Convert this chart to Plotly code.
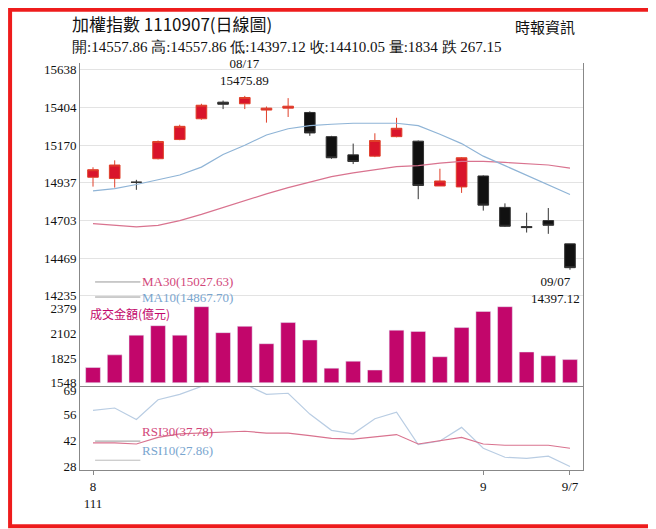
import plotly.graph_objects as go

opens  = [14971,14963,14940,15086,15205,15334,15437,15427,15388,15400,15373,15223,15110,15102,15223,15195,14917,14911,14979,14784,14665,14702,14557.86]
highs  = [15033,15076,14955,15199,15297,15427,15447,15475.89,15410,15462,15380,15228,15180,15244,15340,15199,15024,15096,14983,14809,14751,14780,14557.86]
lows   = [14913,14907,14893,15082,15201,15328,15394,15394,15310,15345,15228,15086,15053,15096,15219,14835,14917,14874,14764,14663,14628,14620,14397.12]
closes = [15018,15047,14940,15193,15287,15418,15424,15466,15400,15412,15246,15092,15069,15199,15275,14920,14948,15092,14798,14667,14659,14673,14410.05]
ma10 = [14887,14901,14926,14956,14985,15034,15112,15170,15233,15272,15291,15300,15306,15306,15306,15291,15238,15180,15102,15043,14985,14926,14864]
ma30 = [14683,14673,14663,14673,14702,14741,14784,14829,14868,14907,14940,14975,14998,15018,15037,15043,15059,15069,15069,15063,15057,15047,15028]
volume = [1718,1860,2081,2187,2081,2400,2109,2180,1985,2222,2027,1711,1789,1690,2137,2123,1839,2166,2347,2400,1892,1850,1807]
rsi10 = [58.3,59.6,53.4,64.1,67.0,71.3,71.9,72.5,67.0,67.6,56.3,47.5,45.6,53.8,57.3,39.8,41.7,49.1,37.8,32.9,32.3,33.5,27.9]
rsi30 = [40.7,40.7,40.1,43.7,45.6,46.0,46.4,47.0,46.0,46.0,44.6,43.1,42.7,44.0,45.2,40.1,41.7,43.7,40.1,39.4,39.4,39.4,37.8]
price_ticks = [14235,14469,14703,14937,15170,15404,15638]
vol_ticks = [1548,1825,2102,2379]
rsi_ticks = [28,42,56,69]
x = list(range(len(opens)))
xtick_vals = [0,18,22]
xtick_text = ["8<br>111","9","9/7"]

F = "Liberation Serif"
fig = go.Figure()
fig.add_trace(go.Scatter(x=x, y=ma30, mode="lines", line=dict(color="#d9738f", width=1.2), yaxis="y", xaxis="x"))
fig.add_trace(go.Scatter(x=x, y=ma10, mode="lines", line=dict(color="#8fb4d6", width=1.2), yaxis="y", xaxis="x"))
fig.add_trace(go.Candlestick(x=x, open=opens, high=highs, low=lows, close=closes, whiskerwidth=0,
    increasing=dict(fillcolor="#d9142b", line=dict(color="#e0402a", width=1)),
    decreasing=dict(fillcolor="#111111", line=dict(color="#333333", width=1)),
    xaxis="x", yaxis="y"))
fig.add_trace(go.Bar(x=x, y=[v-1548 for v in volume], base=1548, marker_color="#c2066b", width=0.68, xaxis="x", yaxis="y2"))
fig.add_trace(go.Scatter(x=x, y=rsi10, mode="lines", line=dict(color="#b9cde3", width=1.2), xaxis="x", yaxis="y3"))
fig.add_trace(go.Scatter(x=x, y=rsi30, mode="lines", line=dict(color="#d9738f", width=1.2), xaxis="x", yaxis="y3"))

ax = dict(showline=True, linecolor="#888", mirror=True, gridcolor="#e3e3e3", zeroline=False, automargin=False,
          tickfont=dict(family=F, size=13, color="#111"), ticks="", fixedrange=True, tickformat="d")
fig.update_layout(
    width=656, height=529, paper_bgcolor="white", plot_bgcolor="white", showlegend=False,
    margin=dict(l=72, r=81, t=55, b=67),
    xaxis=dict(ax, range=[-0.6, 22.6], tickvals=xtick_vals, ticktext=xtick_text, showgrid=False,
               rangeslider=dict(visible=False), anchor="y3", ticks="outside", ticklen=4, tickcolor="#888"),
    yaxis=dict(ax, domain=[0.41, 1], range=[14190, 15680], tickvals=price_ticks),
    yaxis2=dict(ax, domain=[0.204, 0.41], range=[1500, 2440], tickvals=vol_ticks, showgrid=False),
    yaxis3=dict(ax, domain=[0, 0.204], range=[26, 71], tickvals=rsi_ticks, showgrid=False),
    shapes=[
        dict(type="rect", xref="paper", yref="paper", x0=-0.139, x1=1.139, y0=-0.138, y1=1.131,
             line=dict(color="#ee1c1c", width=4)),
        dict(type="line", xref="paper", yref="paper", x0=0.03, x1=0.12, y0=0.462, y1=0.462, line=dict(color="#999", width=1)),
        dict(type="line", xref="paper", yref="paper", x0=0.03, x1=0.12, y0=0.425, y1=0.425, line=dict(color="#999", width=1)),
        dict(type="line", xref="paper", yref="paper", x0=0.03, x1=0.12, y0=0.071, y1=0.071, line=dict(color="#999", width=1)),
        dict(type="line", xref="paper", yref="paper", x0=0.03, x1=0.12, y0=0.024, y1=0.024, line=dict(color="#bbb", width=1)),
    ],
    annotations=[
        dict(text="加權指數 1110907(日線圖)", xref="paper", yref="paper", x=-0.02, y=1.062, xanchor="left", yanchor="bottom",
             showarrow=False, font=dict(family="Noto Sans CJK TC", size=17, color="#111")),
        dict(text="時報資訊", xref="paper", yref="paper", x=0.86, y=1.058, xanchor="left", yanchor="bottom",
             showarrow=False, font=dict(family="Noto Sans CJK TC", size=15, color="#111")),
        dict(text="開:14557.86 高:14557.86 低:14397.12 收:14410.05 量:1834 跌 267.15", xref="paper", yref="paper",
             x=-0.02, y=1.015, xanchor="left", yanchor="bottom", showarrow=False, font=dict(family=F, size=15, color="#111")),
        dict(text="08/17<br>15475.89", x=7, y=15475.89, xref="x", yref="y", yshift=6, yanchor="bottom", showarrow=False,
             font=dict(family=F, size=13, color="#111")),
        dict(text="09/07<br>14397.12", x=22, y=14397.12, xref="x", yref="y", yshift=-2, yanchor="top", xanchor="right", xshift=12,
             showarrow=False, font=dict(family=F, size=13, color="#111")),
        dict(text="MA30(15027.63)", xref="paper", yref="paper", x=0.12, y=0.462, xanchor="left", showarrow=False,
             font=dict(family=F, size=13, color="#d2477a")),
        dict(text="MA10(14867.70)", xref="paper", yref="paper", x=0.12, y=0.425, xanchor="left", showarrow=False,
             font=dict(family=F, size=13, color="#7aa6cf")),
        dict(text="成交金額(億元)", xref="paper", yref="paper", x=0.015, y=0.385, xanchor="left", showarrow=False,
             font=dict(family="Noto Sans CJK TC", size=12, color="#c2066b")),
        dict(text="RSI30(37.78)", xref="paper", yref="paper", x=0.12, y=0.071, xanchor="left", showarrow=False,
             font=dict(family=F, size=13, color="#d2477a")),
        dict(text="RSI10(27.86)", xref="paper", yref="paper", x=0.12, y=0.024, xanchor="left", showarrow=False,
             font=dict(family=F, size=13, color="#7aa6cf")),
    ],
)
fig.write_html("out.html")
